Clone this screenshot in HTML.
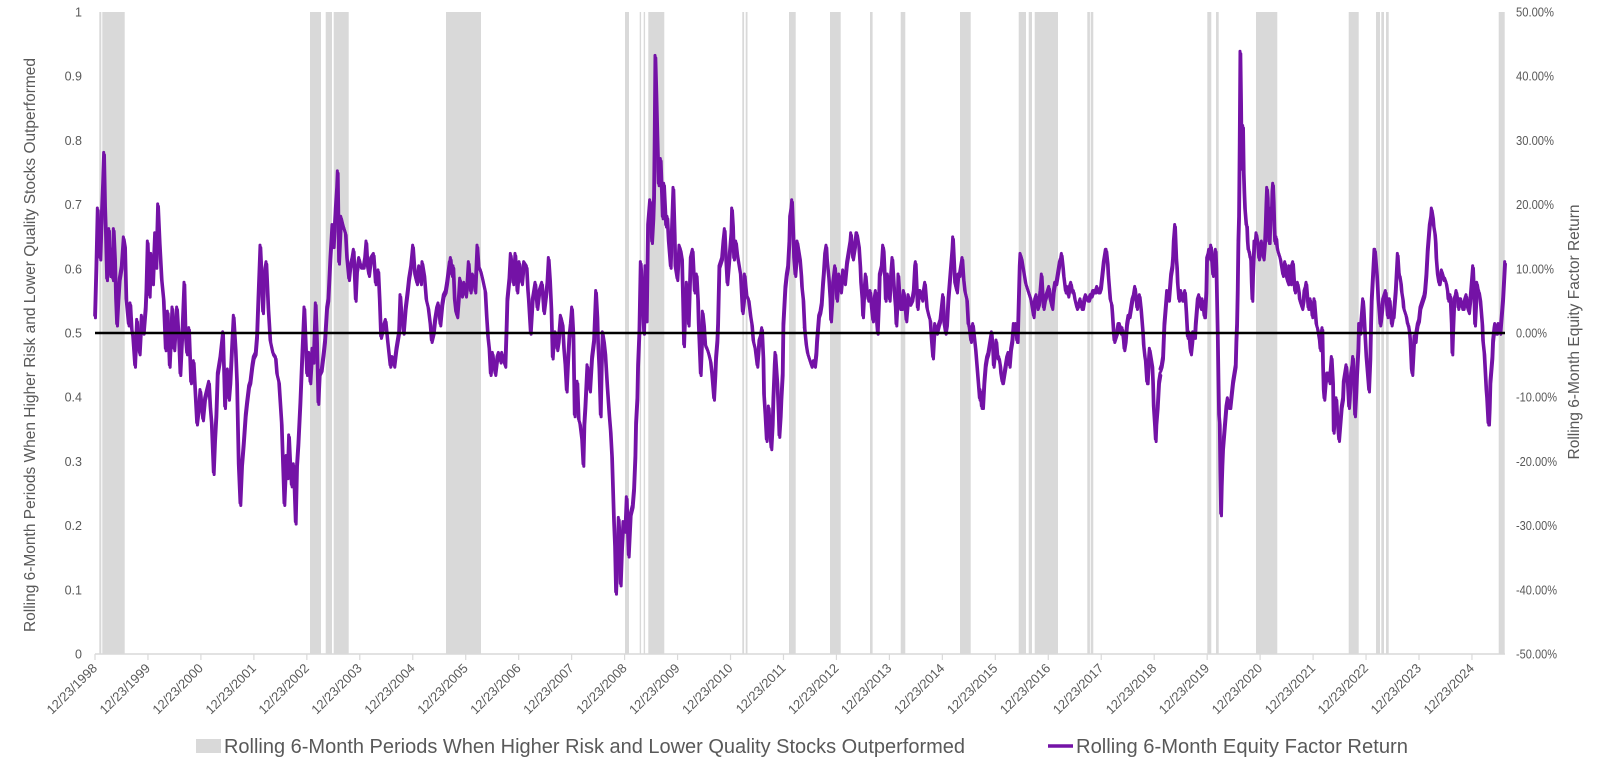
<!DOCTYPE html>
<html>
<head>
<meta charset="utf-8">
<style>
html,body{margin:0;padding:0;background:#fff;}
svg{display:block;}
text{font-family:"Liberation Sans",sans-serif;fill:#595959;}
</style>
</head>
<body>
<svg width="1600" height="764" viewBox="0 0 1600 764" xmlns="http://www.w3.org/2000/svg">
<rect x="0" y="0" width="1600" height="764" fill="#fff"/>

<!-- shaded bands -->
<g fill="#d9d9d9">
<rect x="99.3" y="12" width="2" height="642"/>
<rect x="102.3" y="12" width="22.4" height="642"/>
<rect x="310" y="12" width="11" height="642"/>
<rect x="325.7" y="12" width="6.3" height="642"/>
<rect x="333.7" y="12" width="15" height="642"/>
<rect x="446" y="12" width="35" height="642"/>
<rect x="625" y="12" width="4" height="642"/>
<rect x="639.7" y="12" width="1.4" height="642"/>
<rect x="643.7" y="12" width="1.4" height="642"/>
<rect x="648.3" y="12" width="16" height="642"/>
<rect x="742.3" y="12" width="1.8" height="642"/>
<rect x="745.7" y="12" width="1.8" height="642"/>
<rect x="789" y="12" width="6.7" height="642"/>
<rect x="830" y="12" width="10.7" height="642"/>
<rect x="870" y="12" width="2.6" height="642"/>
<rect x="900.7" y="12" width="4.6" height="642"/>
<rect x="960" y="12" width="10.7" height="642"/>
<rect x="1018.7" y="12" width="7.3" height="642"/>
<rect x="1028.7" y="12" width="3.3" height="642"/>
<rect x="1034.7" y="12" width="23.3" height="642"/>
<rect x="1087.3" y="12" width="2.6" height="642"/>
<rect x="1090.7" y="12" width="2.6" height="642"/>
<rect x="1207.3" y="12" width="4" height="642"/>
<rect x="1216" y="12" width="2.7" height="642"/>
<rect x="1256" y="12" width="21.3" height="642"/>
<rect x="1348.7" y="12" width="10" height="642"/>
<rect x="1376" y="12" width="4" height="642"/>
<rect x="1381.3" y="12" width="2.7" height="642"/>
<rect x="1386" y="12" width="2.7" height="642"/>
<rect x="1498.7" y="12" width="6" height="642"/>
</g>

<!-- x axis -->
<line x1="95" y1="654" x2="1505" y2="654" stroke="#d9d9d9" stroke-width="1.5"/>
<g stroke="#d9d9d9" stroke-width="1.2">
<line x1="95" y1="654" x2="95" y2="660"/>
<line x1="147.96" y1="654" x2="147.96" y2="660"/>
<line x1="200.92" y1="654" x2="200.92" y2="660"/>
<line x1="253.88" y1="654" x2="253.88" y2="660"/>
<line x1="306.84" y1="654" x2="306.84" y2="660"/>
<line x1="359.8" y1="654" x2="359.8" y2="660"/>
<line x1="412.76" y1="654" x2="412.76" y2="660"/>
<line x1="465.72" y1="654" x2="465.72" y2="660"/>
<line x1="518.68" y1="654" x2="518.68" y2="660"/>
<line x1="571.64" y1="654" x2="571.64" y2="660"/>
<line x1="624.6" y1="654" x2="624.6" y2="660"/>
<line x1="677.56" y1="654" x2="677.56" y2="660"/>
<line x1="730.52" y1="654" x2="730.52" y2="660"/>
<line x1="783.48" y1="654" x2="783.48" y2="660"/>
<line x1="836.44" y1="654" x2="836.44" y2="660"/>
<line x1="889.4" y1="654" x2="889.4" y2="660"/>
<line x1="942.36" y1="654" x2="942.36" y2="660"/>
<line x1="995.32" y1="654" x2="995.32" y2="660"/>
<line x1="1048.28" y1="654" x2="1048.28" y2="660"/>
<line x1="1101.24" y1="654" x2="1101.24" y2="660"/>
<line x1="1154.2" y1="654" x2="1154.2" y2="660"/>
<line x1="1207.16" y1="654" x2="1207.16" y2="660"/>
<line x1="1260.12" y1="654" x2="1260.12" y2="660"/>
<line x1="1313.08" y1="654" x2="1313.08" y2="660"/>
<line x1="1366.04" y1="654" x2="1366.04" y2="660"/>
<line x1="1419" y1="654" x2="1419" y2="660"/>
<line x1="1471.96" y1="654" x2="1471.96" y2="660"/>
</g>

<!-- purple series -->
<g id="series" fill="none" stroke="#7412a6" stroke-width="3" stroke-linejoin="round" stroke-linecap="round">
<g transform="translate(90,10) scale(0.333333,0.41254)">
<polyline vector-effect="non-scaling-stroke" points="14,740 18,620 22,480 26,560 30,600 34,500 38,420 41,345 44,470 46,520 50,650 53,560 56,530 60,640 64,580 68,650 70,530 74,600 77,700 80,760 84,700 88,650 94,620 100,550 104,570 108,700 115,760 120,710 124,770 128,790 134,860 140,750 144,810 148,830 154,740 160,780 166,720 168,680 172,560 178,690 182,590 188,660 194,540 198,620 203,470 208,560 214,650 220,700 226,820 232,730 238,860 246,720 252,820 260,720 266,800 270,880 276,780 282,660 286,790 290,830 296,770 302,900 310,850 316,940 320,1000 326,960 330,920 338,990 344,940 350,920 356,900 360,960 364,1000 370,1120 374,1040 378,980 382,880 390,840 398,780 404,960 408,880 412,870 416,940 420,900 426,800 430,740 436,820 440,900 445,1100 450,1195 455,1100 460,1050 466,980 470,950 476,910 480,900 486,860 490,840 496,830 500,790 504,700 510,570 514,640 518,730 522,640 528,610 534,720 540,800 548,830 556,840 560,880 566,900 570,950 574,1000 578,1100 582,1195 588,1080 592,1130 596,1030 600,1100 604,1150 610,1100 616,1240 620,1100 624,1050 630,950 636,830 642,720 646,800 650,880 656,830 660,900 666,820 670,850 676,710 680,800 684,950 688,880 694,870 700,830 704,800 710,720 714,700 720,600 726,520 730,570 736,480 740,430 742,390 744,500 746,610 750,540 752,500 758,520 766,540 770,600 776,650 780,620 786,600 790,580 796,700 800,630 806,600 812,620 820,620 824,600 828,560 832,620 836,640 842,600 850,590 856,660 864,630 868,700 872,790 878,770 886,750 892,800 900,860 906,840 912,860 918,820 926,780 930,690 934,740 940,780 946,720 952,680 956,650 962,620 968,570 974,640 980,660 986,620 992,660 996,610 1002,640 1008,700 1014,720 1020,760 1024,800 1030,780 1034,750 1040,720 1044,710 1050,760 1056,710 1060,690 1066,680 1070,660 1078,610"/>
</g>
<g transform="translate(445,10) scale(0.333333,0.41254)">
<polyline vector-effect="non-scaling-stroke" points="13,620 16,600 20,640 24,620 28,700 32,730 36,740 40,700 44,650 50,690 56,660 62,690 66,660 70,610 76,680 82,640 86,650 90,680 96,570 100,620 106,630 112,650 120,680 124,740 128,790 132,820 136,880 142,830 146,860 150,880 156,840 160,830 166,850 170,830 176,850 180,860 184,760 186,700 192,650 196,590 200,620 204,660 210,590 216,680 222,610 230,660 236,610 244,620 248,680 250,700 256,780 262,700 270,660 276,720 282,680 290,660 296,730 302,690 306,660 310,600 314,650 318,720 322,840 326,790 330,780 336,820 340,800 346,740 352,760 356,820 360,860 364,920 368,850 372,790 376,760 380,720 384,780 388,980 392,940 396,900 400,990 404,1000 410,1040 414,1100 417,1000 420,960 426,860 430,900 434,920 440,840 446,800 452,680 456,740 458,800 462,870 466,980 469,860 472,780 476,800 480,830 486,910 492,980 496,1020 500,1080 503,1160 506,1240 509,1300 512,1410 516,1330 520,1230 523,1280 526,1390 530,1300 534,1240 540,1260 544,1180 550,1320 556,1220 562,1200 566,1160 570,1080 572,1000 576,940 578,860 582,780 586,610 590,660 592,700 596,780 600,620 604,750 606,640 608,520 612,480 614,460 620,560 624,500 626,450 628,300 630,110 633,200 636,300 640,420 643,380 646,360 650,450 652,500 656,420 662,520 666,500 670,560 676,620 680,520 684,430 688,540 690,620 696,650 702,570 706,580 710,600 713,700 716,810 720,720 724,660 730,760 736,600 742,580 748,680 754,640 758,700 760,760 764,840 766,880 770,800 772,730 776,760 780,810 786,820 790,830 796,850 800,880 806,940 810,880 812,840 816,800 818,760 822,620 826,610 830,600 834,560 838,530 842,600 846,660 850,620 854,580 858,540 860,480 863,520 866,600 872,560 876,590 880,610 886,640 892,730 896,700 898,640 904,690 910,700 916,740 920,760 924,800 930,820 936,860 942,800 946,790 950,770 954,840 956,930 960,980 964,1040 968,1000 970,960 974,1020 978,1060 982,1000 984,940 988,860 990,830 996,900 1000,980 1002,1030 1006,980 1008,940 1012,880 1014,760 1018,700 1020,670 1024,640 1028,620 1032,560 1034,500 1038,480 1040,460 1044,540 1046,600 1050,640 1054,600 1056,560 1060,580 1064,600 1068,640 1070,670 1074,700 1078,770"/>
</g>
<g transform="translate(800,10) scale(0.333333,0.41254)">
<polyline vector-effect="non-scaling-stroke" points="13,770 18,810 22,830 26,840 30,850 34,860 40,850 44,860 48,830 50,800 56,740 60,730 64,710 68,660 70,640 74,590 78,570 80,600 86,650 90,700 92,750 96,700 98,660 104,620 110,700 116,640 122,680 128,630 134,660 140,610 146,580 150,560 152,540 156,580 158,600 164,570 168,540 170,540 174,560 176,570 180,620 182,660 186,700 188,740 192,680 196,640 200,680 204,700 210,680 214,720 218,750 222,700 226,680 230,760 232,780 236,700 238,640 244,620 248,570 250,580 254,650 256,700 262,640 268,700 272,640 276,600 282,680 286,720 288,760 292,700 294,640 300,720 306,720 310,680 312,690 318,750 324,690 330,710 336,700 340,680 344,620 346,610 352,720 356,680 360,680 366,700 370,680 374,660 380,720 386,740 390,750 394,800 398,840 402,780 404,760 410,780 416,760 420,750 424,720 428,690 432,760 436,780 440,760 444,700 448,660 452,620 456,580 458,550 462,620 464,660 470,680 474,640 478,640 482,620 486,600 490,650 494,680 500,700 504,760 506,760 512,800 518,760 522,790 526,820 530,860 534,900 538,940 540,920 544,960 548,960 552,900 556,860 560,840 564,830 570,800 574,780 578,820 580,860 584,830 588,800 592,840 596,840 600,860 602,880 606,900 608,900 612,880 616,860 620,840 624,830 628,860 632,820 636,800 640,760 644,780 646,760 650,800 652,800 656,680 658,620 660,590 664,600 668,620 672,640 676,660 680,670 684,680 688,690 692,700 696,720 700,740 704,700 708,690 712,720 716,710 720,680 724,640 728,700 730,720 734,700 738,690 742,680 746,670 750,700 756,720 760,680 764,660 768,660 772,640 776,620 778,610 782,600 784,590 788,620 790,640 796,680 800,670 804,690 808,670 812,660 816,680 820,680 824,700 830,720 836,710 840,700 844,720 848,720 852,700 856,690 862,700 866,700 870,690 874,690 878,680 882,680 886,680 890,670 894,680 898,680 902,670 906,640 910,610 912,600 916,580 918,580 922,610 924,640 928,680 930,700 934,710 936,730 940,780 942,800 946,790 950,780 954,760 958,760 962,780 966,770 970,800 972,820 976,800 980,760 984,740 988,740 992,720 996,700 1000,690 1004,670 1008,700 1010,720 1014,700 1018,690 1022,720 1024,740 1028,780 1030,810 1034,840 1036,850 1040,900 1042,900 1046,840 1048,820 1052,840 1056,860 1058,900 1060,960 1064,1010 1066,1040 1068,1000 1072,960 1076,900 1080,880"/>
</g>
<g transform="translate(1150,10) scale(0.333333,0.41254)">
<polyline vector-effect="non-scaling-stroke" points="30,870 34,860 38,840 40,800 42,760 44,740 48,700 50,680 54,690 56,700 60,660 62,640 66,620 68,600 70,560 72,540 74,520 76,560 78,600 80,620 82,660 86,700 90,690 92,680 96,700 98,700 102,690 104,680 108,730 110,760 112,790 116,780 120,820 122,830 126,800 128,780 132,790 134,790 136,760 140,720 142,700 146,690 148,710 152,720 156,700 158,710 162,740 164,740 168,680 170,600 174,590 176,580 180,600 182,570 186,620 188,640 192,600 196,580 198,620 200,700 202,780 204,880 206,980 208,1000 210,1120 212,1220 214,1150 216,1100 218,1060 220,1040 222,1020 226,980 228,960 232,940 236,960 240,960 244,930 248,900 252,880 254,870 256,860 258,800 260,760 262,680 264,560 266,500 268,320 270,100 272,220 274,380 276,330 278,280 280,390 282,440 284,480 286,500 288,520 290,520 292,560 294,580 296,580 298,590 300,600 302,600 304,660 306,700 308,640 310,600 312,560 314,560 316,560 318,540 322,560 326,600 330,580 334,560 336,580 340,600 344,560 346,520 348,470 350,430 352,450 354,520 356,560 358,560 360,510 362,480 364,500 366,440 368,420 370,460 372,520 374,560 376,560 378,550 380,570 382,580 386,590 390,600 394,620 398,640 402,620 404,610 408,640 410,650 414,660 416,620 420,650 422,660 424,620 428,610 432,660 434,680 438,670 442,660 446,680 448,700 452,710 456,720 460,700 462,680 466,670 468,660 470,680 474,720 476,720 480,700 484,720 486,740 490,720 492,700 496,740 498,760 502,770 504,780 508,800 510,820 514,780 516,770 518,860 520,920 522,940 526,900 530,880 534,880 538,900 540,880 544,840 548,900 550,1020 554,980 558,940 562,1000 566,1040 570,1000 574,960 578,940 580,900 584,880 588,860 592,900 596,960 598,940 602,880 606,860 608,840 612,920 614,980 618,920 620,880 624,820 626,760 630,780 634,740 638,700 640,720 644,780 648,840 650,860 654,900 656,920 660,840 662,760 664,700 668,640 672,580 674,580 678,620 680,640 684,700 686,720 690,760 692,750 696,720 698,700 702,690 706,680 710,720 712,740 716,700 718,700 722,740 724,760 728,740 730,740 734,700 736,680 740,620 742,590 746,640 748,640 752,660 754,680 758,700 760,720 764,730 768,740 772,760 774,760 778,780 780,800 784,870 786,880 790,820 792,790 796,800 798,780 802,760 806,750 810,720 814,710 818,700 822,690 824,680 828,640 832,580 836,540 838,520 842,500 844,480 848,500 850,520 854,540 856,560 858,600 862,640 866,660 868,660 872,640 874,630 878,640 880,650 884,650 888,660 892,680 894,700 898,700 900,690 904,760 906,830 908,780 912,700 916,690 918,680 922,700 924,720 928,700 932,700 936,720 940,720 944,700 948,690 952,720 956,730 960,700 962,680 966,640 968,620 972,700 974,760 978,700 980,660 984,680 986,680 990,700 992,720 996,760 998,800 1002,830 1004,860 1008,920 1010,940 1014,1000 1016,1000 1018,960 1020,900 1022,880 1026,840 1028,800 1032,770 1034,760 1038,780 1040,780 1044,760 1046,770 1050,780 1052,760 1056,720 1058,700 1062,640 1064,610"/>
</g>
</g>
<use href="#series" transform="translate(0.8,2.5)"/>

<!-- zero line -->
<line x1="95" y1="333" x2="1505" y2="333" stroke="#000" stroke-width="2.6"/>

<!-- left axis labels -->
<g font-size="12.5" text-anchor="end">
<text x="82" y="658.5">0</text>
<text x="82" y="594.3">0.1</text>
<text x="82" y="530.1">0.2</text>
<text x="82" y="465.9">0.3</text>
<text x="82" y="401.7">0.4</text>
<text x="82" y="337.5">0.5</text>
<text x="82" y="273.3">0.6</text>
<text x="82" y="209.1">0.7</text>
<text x="82" y="144.9">0.8</text>
<text x="82" y="80.7">0.9</text>
<text x="82" y="16.5">1</text>
</g>

<!-- right axis labels -->
<g font-size="12.5">
<text x="1516" y="658.5" textLength="41" lengthAdjust="spacingAndGlyphs">-50.00%</text>
<text x="1516" y="594.3" textLength="41" lengthAdjust="spacingAndGlyphs">-40.00%</text>
<text x="1516" y="530.1" textLength="41" lengthAdjust="spacingAndGlyphs">-30.00%</text>
<text x="1516" y="465.9" textLength="41" lengthAdjust="spacingAndGlyphs">-20.00%</text>
<text x="1516" y="401.7" textLength="41" lengthAdjust="spacingAndGlyphs">-10.00%</text>
<text x="1516" y="337.5" textLength="31" lengthAdjust="spacingAndGlyphs">0.00%</text>
<text x="1516" y="273.3" textLength="38" lengthAdjust="spacingAndGlyphs">10.00%</text>
<text x="1516" y="209.1" textLength="38" lengthAdjust="spacingAndGlyphs">20.00%</text>
<text x="1516" y="144.9" textLength="38" lengthAdjust="spacingAndGlyphs">30.00%</text>
<text x="1516" y="80.7" textLength="38" lengthAdjust="spacingAndGlyphs">40.00%</text>
<text x="1516" y="16.5" textLength="38" lengthAdjust="spacingAndGlyphs">50.00%</text>
</g>

<!-- x labels -->
<g font-size="13" text-anchor="end">
<text transform="translate(98,669) rotate(-45)">12/23/1998</text>
<text transform="translate(150.96,669) rotate(-45)">12/23/1999</text>
<text transform="translate(203.92,669) rotate(-45)">12/23/2000</text>
<text transform="translate(256.88,669) rotate(-45)">12/23/2001</text>
<text transform="translate(309.84,669) rotate(-45)">12/23/2002</text>
<text transform="translate(362.8,669) rotate(-45)">12/23/2003</text>
<text transform="translate(415.76,669) rotate(-45)">12/23/2004</text>
<text transform="translate(468.72,669) rotate(-45)">12/23/2005</text>
<text transform="translate(521.68,669) rotate(-45)">12/23/2006</text>
<text transform="translate(574.64,669) rotate(-45)">12/23/2007</text>
<text transform="translate(627.6,669) rotate(-45)">12/23/2008</text>
<text transform="translate(680.56,669) rotate(-45)">12/23/2009</text>
<text transform="translate(733.52,669) rotate(-45)">12/23/2010</text>
<text transform="translate(786.48,669) rotate(-45)">12/23/2011</text>
<text transform="translate(839.44,669) rotate(-45)">12/23/2012</text>
<text transform="translate(892.4,669) rotate(-45)">12/23/2013</text>
<text transform="translate(945.36,669) rotate(-45)">12/23/2014</text>
<text transform="translate(998.32,669) rotate(-45)">12/23/2015</text>
<text transform="translate(1051.28,669) rotate(-45)">12/23/2016</text>
<text transform="translate(1104.24,669) rotate(-45)">12/23/2017</text>
<text transform="translate(1157.2,669) rotate(-45)">12/23/2018</text>
<text transform="translate(1210.16,669) rotate(-45)">12/23/2019</text>
<text transform="translate(1263.12,669) rotate(-45)">12/23/2020</text>
<text transform="translate(1316.08,669) rotate(-45)">12/23/2021</text>
<text transform="translate(1369.04,669) rotate(-45)">12/23/2022</text>
<text transform="translate(1422,669) rotate(-45)">12/23/2023</text>
<text transform="translate(1474.96,669) rotate(-45)">12/23/2024</text>
</g>

<!-- axis titles -->
<text font-size="16" text-anchor="middle" transform="translate(35,345) rotate(-90)" textLength="574" lengthAdjust="spacingAndGlyphs">Rolling 6-Month Periods When Higher Risk and Lower Quality Stocks Outperformed</text>
<text font-size="16" text-anchor="middle" transform="translate(1579,332) rotate(-90)" textLength="255" lengthAdjust="spacingAndGlyphs">Rolling 6-Month Equity Factor Return</text>

<!-- legend -->
<rect x="196" y="739" width="25" height="14" fill="#d9d9d9"/>
<text x="224" y="753" font-size="20" textLength="741" lengthAdjust="spacingAndGlyphs">Rolling 6-Month Periods When Higher Risk and Lower Quality Stocks Outperformed</text>
<line x1="1048" y1="746" x2="1073" y2="746" stroke="#7412a6" stroke-width="3.5"/>
<text x="1076" y="753" font-size="20" textLength="332" lengthAdjust="spacingAndGlyphs">Rolling  6-Month Equity Factor Return</text>
</svg>
</body>
</html>
